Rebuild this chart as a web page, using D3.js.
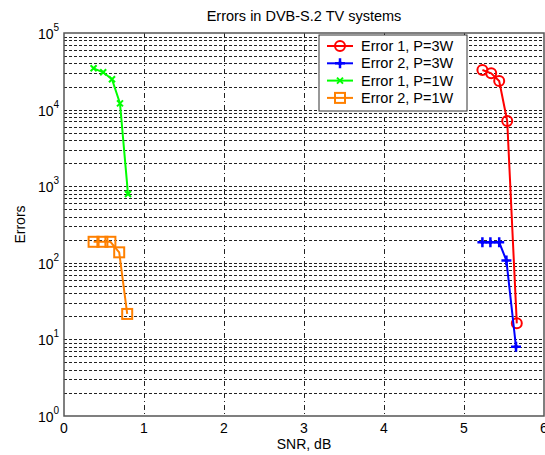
<!DOCTYPE html>
<html>
<head>
<meta charset="utf-8">
<script src="https://cdn.jsdelivr.net/npm/d3@7"></script>
<style>
body { margin: 0; background: #fff; }
text { font-family: "Liberation Sans", Arial, sans-serif; }
</style>
</head>
<body>
<svg width="545" height="455"></svg>
<script>
// values
const snrErr1P3 = [5.23, 5.34, 5.44, 5.54, 5.66];
const err1P3 = [32900, 29800, 23600, 7100, 16.2];
const snrErr2P3 = [5.23, 5.33, 5.44, 5.53, 5.65];
const err2P3 = [185, 185, 185, 107, 8];
const snrErr1P1 = [0.37, 0.49, 0.6, 0.7, 0.8];
const err1P1 = [34600, 30700, 24900, 12050, 790];
const snrErr2P1 = [0.37, 0.48, 0.58, 0.69, 0.79];
const err2P1 = [188, 188, 188, 137, 21.5];
const xTicks = [0, 1, 2, 3, 4, 5, 6];
const yExps = [0, 1, 2, 3, 4, 5];
const legendNames = ["Error 1, P=3W", "Error 2, P=3W", "Error 1, P=1W", "Error 2, P=1W"];

let svg = d3.select("svg");
let pLeft = 64, pRight = 544, pTop = 33, pBottom = 416;

let x = d3.scaleLinear().domain([0, 6]).range([pLeft, pRight]);
let y = d3.scaleLog().domain([1, 1e5]).range([pBottom, pTop]);

let series = [
    { name: legendNames[0], xs: snrErr1P3, ys: err1P3, color: "#ff0000", marker: "circle" },
    { name: legendNames[1], xs: snrErr2P3, ys: err2P3, color: "#0000ff", marker: "plus" },
    { name: legendNames[2], xs: snrErr1P1, ys: err1P1, color: "#00ff00", marker: "cross" },
    { name: legendNames[3], xs: snrErr2P1, ys: err2P1, color: "#ff8000", marker: "square" }
];

// horizontal grid, major + minor decades
let yGrid = [];
yExps.forEach(e => {
    if (e < 5) for (let k = 1; k < 10; k++) yGrid.push(k * Math.pow(10, e));
});

svg.append("g").selectAll("line")
    .data(yGrid.filter(v => v > 1))
    .enter().append("line")
    .attr("x1", pLeft).attr("x2", pRight)
    .attr("y1", d => Math.round(y(d)) + 0.5).attr("y2", d => Math.round(y(d)) + 0.5)
    .attr("stroke", "#222").attr("stroke-width", 1)
    .attr("stroke-dasharray", "3,2");

svg.append("g").selectAll("line")
    .data(xTicks.filter(v => v > 0 && v < 6))
    .enter().append("line")
    .attr("x1", d => Math.round(x(d)) + 0.5).attr("x2", d => Math.round(x(d)) + 0.5)
    .attr("y1", pTop).attr("y2", pBottom)
    .attr("stroke", "#222").attr("stroke-width", 1)
    .attr("stroke-dasharray", "5,3,1,3");

// axes box
svg.append("rect")
    .attr("x", pLeft).attr("y", pTop)
    .attr("width", pRight - pLeft).attr("height", pBottom - pTop)
    .attr("fill", "none").attr("stroke", "#555").attr("stroke-width", 1.5);

// x tick labels
svg.append("g").selectAll("text")
    .data(xTicks)
    .enter().append("text")
    .attr("x", d => x(d)).attr("y", 433)
    .attr("text-anchor", "middle")
    .attr("font-size", "14px")
    .text(d => d);

// y tick labels 10^n
let yl = svg.append("g").selectAll("text")
    .data(yExps)
    .enter().append("text")
    .attr("x", 38).attr("y", d => y(Math.pow(10, d)) + 6)
    .attr("font-size", "14px");
yl.append("tspan").text("10");
yl.append("tspan").attr("dy", -8).attr("font-size", "10px").text(d => d);

// titles
svg.append("text").attr("x", (pLeft + pRight) / 2).attr("y", 21)
    .attr("text-anchor", "middle").attr("font-size", "14.5px")
    .text("Errors in DVB-S.2 TV systems");
svg.append("text").attr("x", (pLeft + pRight) / 2).attr("y", 449)
    .attr("text-anchor", "middle").attr("font-size", "14px")
    .text("SNR, dB");
svg.append("text")
    .attr("transform", "translate(25," + ((pTop + pBottom) / 2) + ") rotate(-90)")
    .attr("text-anchor", "middle").attr("font-size", "14px")
    .text("Errors");

function drawMarker(g, type, color) {
    if (type == "circle") {
        g.append("circle").attr("r", 5).attr("fill", "none")
            .attr("stroke", color).attr("stroke-width", 2);
    } else if (type == "square") {
        g.append("rect").attr("x", -5).attr("y", -5).attr("width", 10).attr("height", 10)
            .attr("fill", "none").attr("stroke", color).attr("stroke-width", 2);
    } else if (type == "plus") {
        g.append("path").attr("d", "M-5,0H5M0,-5V5")
            .attr("stroke", color).attr("stroke-width", 2.5);
        g.append("circle").attr("r", 2).attr("fill", color);
    } else {
        g.append("path").attr("d", "M-3,-3L3,3M-3,3L3,-3")
            .attr("stroke", color).attr("stroke-width", 2);
    }
}

let line = d3.line().x(d => x(d[0])).y(d => y(d[1]));

series.forEach(s => {
    let pts = s.xs.map((v, i) => [v, s.ys[i]]);
    svg.append("path").datum(pts)
        .attr("d", line)
        .attr("fill", "none")
        .attr("stroke", s.color)
        .attr("stroke-width", 2);
    pts.forEach(p => {
        let g = svg.append("g").attr("transform", "translate(" + x(p[0]) + "," + y(p[1]) + ")");
        drawMarker(g, s.marker, s.color);
    });
});

// legend
let lg = svg.append("g").attr("transform", "translate(319,35)");
lg.append("rect").attr("width", 148).attr("height", 76)
    .attr("fill", "#fff").attr("stroke", "#333").attr("stroke-width", 1);
series.forEach((s, i) => {
    let cy = 11 + i * 17.3;
    lg.append("line").attr("x1", 8).attr("x2", 34).attr("y1", cy).attr("y2", cy)
        .attr("stroke", s.color).attr("stroke-width", 2);
    let g = lg.append("g").attr("transform", "translate(21," + cy + ")");
    drawMarker(g, s.marker, s.color);
    lg.append("text").attr("x", 42).attr("y", cy + 5)
        .attr("font-size", "14.5px").text(s.name);
});
</script>
</body>
</html>
